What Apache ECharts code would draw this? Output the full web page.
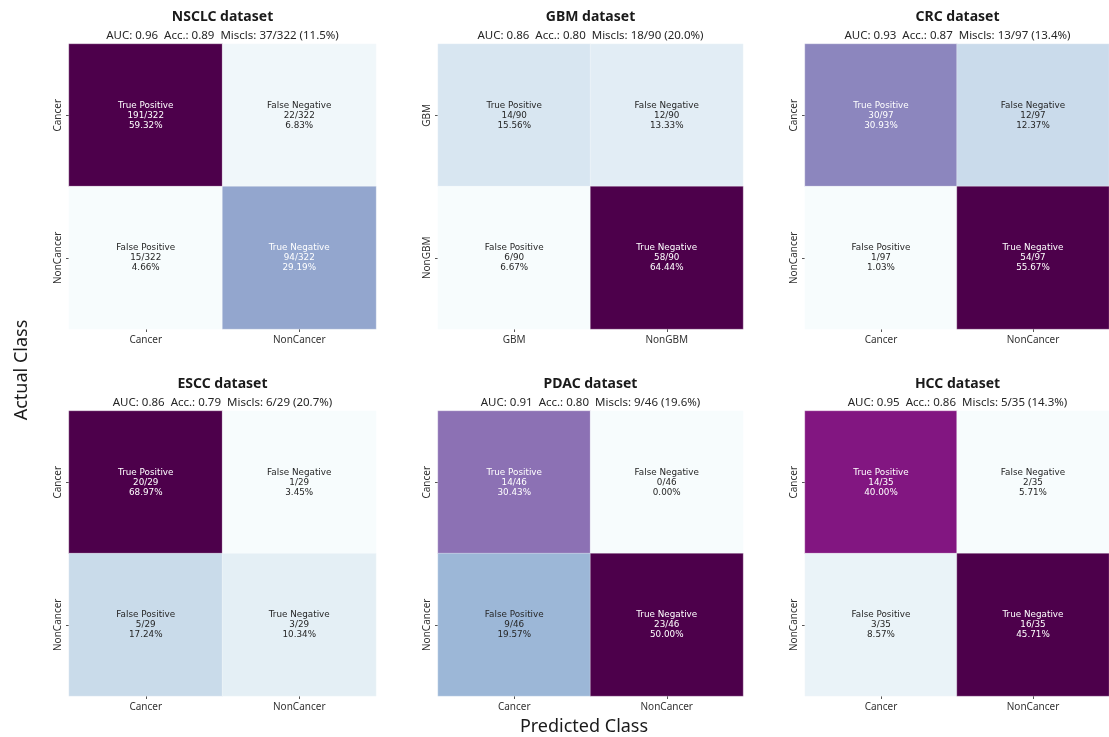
<!DOCTYPE html>
<html>
<head>
<meta charset="utf-8">
<script src="https://cdn.jsdelivr.net/npm/echarts@6/dist/echarts.min.js"></script>
<style>
  html, body { margin: 0; padding: 0; background: #fff; }
  #chart { width: 1109px; height: 737px; }
</style>
</head>
<body>
<div id="chart"></div>
<script>
// Confusion matrices, rows = actual class, columns = predicted class
const datasetNames = ['NSCLC', 'GBM', 'CRC', 'ESCC', 'PDAC', 'HCC'];
const classLabels = [
  ['Cancer', 'NonCancer'],
  ['GBM', 'NonGBM'],
  ['Cancer', 'NonCancer'],
  ['Cancer', 'NonCancer'],
  ['Cancer', 'NonCancer'],
  ['Cancer', 'NonCancer']
];
const truePositive  = [191, 14, 30, 20, 14, 14];
const falseNegative = [22, 12, 12, 1, 0, 2];
const falsePositive = [15, 6, 1, 5, 9, 3];
const trueNegative  = [94, 58, 54, 3, 23, 16];
const aucValues = ['0.96', '0.86', '0.93', '0.86', '0.91', '0.95'];
const accValues = ['0.89', '0.80', '0.87', '0.79', '0.80', '0.86'];
const cellNames = [['True Positive', 'False Negative'], ['False Positive', 'True Negative']];

// BuPu colour ramp
const buPu = ['#f7fcfd', '#e0ecf4', '#bfd3e6', '#9ebcda', '#8c96c6', '#8c6bb1', '#88419d', '#810f7c', '#4d004b'];

function hexToRgb(h) {
  return [parseInt(h.slice(1, 3), 16), parseInt(h.slice(3, 5), 16), parseInt(h.slice(5, 7), 16)];
}
function rampColor(t) {
  t = Math.max(0, Math.min(1, t));
  const pos = t * (buPu.length - 1);
  const i = Math.min(Math.floor(pos), buPu.length - 2);
  const f = pos - i;
  const a = hexToRgb(buPu[i]), b = hexToRgb(buPu[i + 1]);
  return a.map((v, k) => v + (b[k] - v) * f);
}
function luminance(rgb) {
  const c = rgb.map(v => {
    v /= 255;
    return v <= 0.03928 ? v / 12.92 : Math.pow((v + 0.055) / 1.055, 2.4);
  });
  return 0.2126 * c[0] + 0.7152 * c[1] + 0.0722 * c[2];
}

// Panel placement (pixels)
const colLeft = [69, 438, 805];
const colWidth = [307, 305, 305];
const rowTop = [44, 411];
const panelHeight = 285;

const grids = [], xAxes = [], yAxes = [], series = [], visualMaps = [], graphics = [];
const labelFont = '"DejaVu Sans", sans-serif';
const titleFont = '"Noto Sans", "Open Sans", sans-serif';

datasetNames.forEach((name, p) => {
  const col = p % 3, row = Math.floor(p / 3);
  const m = [[truePositive[p], falseNegative[p]], [falsePositive[p], trueNegative[p]]];
  const total = m[0][0] + m[0][1] + m[1][0] + m[1][1];
  const flat = [m[0][0], m[0][1], m[1][0], m[1][1]];
  const vmin = Math.min(...flat), vmax = Math.max(...flat);
  const miscls = m[0][1] + m[1][0];

  grids.push({ left: colLeft[col], top: rowTop[row], width: colWidth[col], height: panelHeight });
  xAxes.push({
    type: 'category', gridIndex: p, data: classLabels[p], position: 'bottom',
    axisLine: { show: false },
    axisTick: { show: true, alignWithLabel: true, length: 3, lineStyle: { color: '#555' } },
    axisLabel: { color: '#333', fontSize: 10, fontFamily: titleFont, margin: 6 },
    splitLine: { show: false }
  });
  yAxes.push({
    type: 'category', gridIndex: p, data: classLabels[p], inverse: true,
    axisLine: { show: false },
    axisTick: { show: true, alignWithLabel: true, length: 3, lineStyle: { color: '#555' } },
    axisLabel: { color: '#333', fontSize: 10, fontFamily: titleFont, rotate: 90, margin: 6 },
    splitLine: { show: false }
  });

  const data = [];
  for (let r = 0; r < 2; r++) {
    for (let c = 0; c < 2; c++) {
      const v = m[r][c];
      const rgb = rampColor((v - vmin) / (vmax - vmin));
      const txt = luminance(rgb) > 0.408 ? '#262626' : '#ffffff';
      data.push({
        value: [c, r, v],
        label: {
          color: txt,
          formatter: cellNames[r][c] + '\n' + v + '/' + total + '\n' + (100 * v / total).toFixed(2) + '%'
        }
      });
    }
  }
  series.push({
    type: 'heatmap', xAxisIndex: p, yAxisIndex: p, data: data,
    label: { show: true, fontSize: 8.8, lineHeight: 10, fontFamily: labelFont },
    itemStyle: { borderColor: 'rgba(255,255,255,0.5)', borderWidth: 0.6 },
    emphasis: { disabled: true }
  });
  visualMaps.push({
    type: 'continuous', show: false, seriesIndex: p, dimension: 2,
    min: vmin, max: vmax, inRange: { color: buPu }
  });

  const cx = colLeft[col] + colWidth[col] / 2;
  const ty = rowTop[row];
  graphics.push({
    type: 'text', x: cx, y: ty - 27,
    style: { text: name + ' dataset', textAlign: 'center', textVerticalAlign: 'middle',
             font: 'bold 14px ' + titleFont, fill: '#1a1a1a' }
  });
  graphics.push({
    type: 'text', x: cx, y: ty - 8,
    style: {
      text: 'AUC: ' + aucValues[p] + '  Acc.: ' + accValues[p] + '  Miscls: ' + miscls + '/' + total +
            ' (' + (100 * miscls / total).toFixed(1) + '%)',
      textAlign: 'center', textVerticalAlign: 'middle',
      font: '11.5px ' + titleFont, fill: '#262626'
    }
  });
});

// Shared axis titles
graphics.push({
  type: 'text', x: 584, y: 727,
  style: { text: 'Predicted Class', textAlign: 'center', textVerticalAlign: 'middle',
           font: '18px ' + titleFont, fill: '#1a1a1a' }
});
graphics.push({
  type: 'text', x: 22, y: 370, rotation: Math.PI / 2,
  style: { text: 'Actual Class', textAlign: 'center', textVerticalAlign: 'middle',
           font: '18px ' + titleFont, fill: '#1a1a1a' }
});

const chart = echarts.init(document.getElementById('chart'), null, { renderer: 'canvas' });
chart.setOption({
  backgroundColor: '#ffffff',
  animation: false,
  grid: grids,
  xAxis: xAxes,
  yAxis: yAxes,
  visualMap: visualMaps,
  series: series,
  graphic: graphics
});
</script>
</body>
</html>
